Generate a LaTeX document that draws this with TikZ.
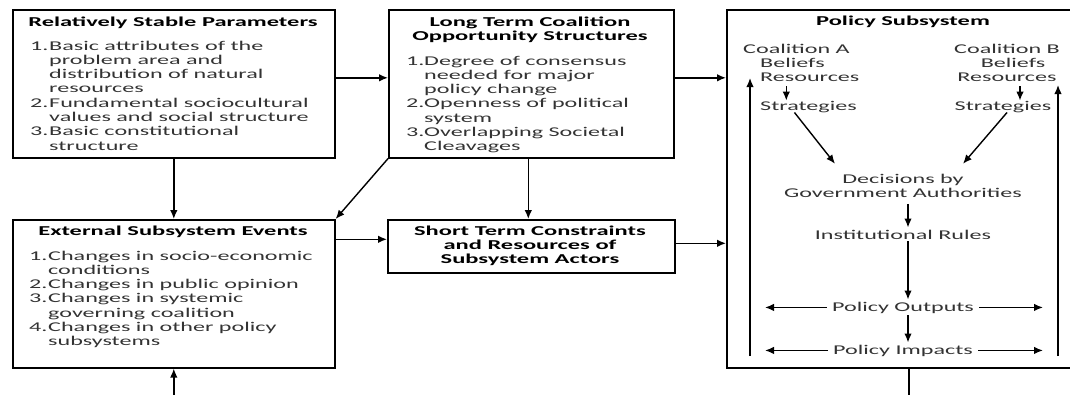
\documentclass[tikz,border=0pt]{standalone}
\usepackage{fontspec}
\setmainfont{Carlito}[FakeStretch=1.8]
\usetikzlibrary{arrows.meta,positioning}
\definecolor{txtgray}{gray}{0.2}
\tikzset{
  box/.style={draw, line width=1.6pt, anchor=north west, inner sep=0pt},
  head/.style={font=\fontsize{13.6}{14.3}\selectfont\bfseries, inner sep=0pt},
  txt/.style={font=\fontsize{13.4}{14.3}\selectfont, text=txtgray, inner sep=0pt},
  inner/.style={font=\fontsize{13.4}{14.3}\selectfont, text=txtgray, inner ysep=2pt, inner xsep=5pt},
  arr/.style={line width=1.4pt, ->},
}
\begin{document}
\begin{tikzpicture}[x=1pt,y=-1pt,>={Latex[length=9pt,width=7.5pt]}]
\useasboundingbox (0,0) rectangle (1070,394);

% the five boxes
\node [box, minimum width=322pt, minimum height=148pt] (stable) at (12,9) {};
\node [box, minimum width=285pt, minimum height=148pt] (opp) at (388,9) {};
\node [box, minimum width=354pt, minimum height=358pt] (policy) at (726,9) {};
\node [box, minimum width=322pt, minimum height=148pt] (ext) at (12,219) {};
\node [box, minimum width=287pt, minimum height=53pt] (short) at (387,219) {};

% box contents
\node [head, anchor=base] (stablehead) at (173,26) {Relatively Stable Parameters};
\node [txt, anchor=base west] (stablelist) at (30,50) {\begin{tabular}[t]{@{}p{19pt}@{}l@{}}
1. & Basic attributes of the\\
   & problem area and\\
   & distribution of natural\\
   & resources\\
2. & Fundamental sociocultural\\
   & values and social structure\\
3. & Basic constitutional\\
   & structure
\end{tabular}};

\node [head, anchor=base] (opphead) at (530,26) {\begin{tabular}[t]{@{}c@{}}Long Term Coalition\\Opportunity Structures\end{tabular}};
\node [txt, anchor=base west] (opplist) at (406,65) {\begin{tabular}[t]{@{}p{18pt}@{}l@{}}
1. & Degree of consensus\\
   & needed for major\\
   & policy change\\
2. & Openness of political\\
   & system\\
3. & Overlapping Societal\\
   & Cleavages
\end{tabular}};

\node [head, anchor=base] (exthead) at (173,235) {External Subsystem Events};
\node [txt, anchor=base west] (extlist) at (29,260) {\begin{tabular}[t]{@{}p{19pt}@{}l@{}}
1. & Changes in socio-economic\\
   & conditions\\
2. & Changes in public opinion\\
3. & Changes in systemic\\
   & governing coalition\\
4. & Changes in other policy\\
   & subsystems
\end{tabular}};

\node [head, anchor=base] (shorthead) at (530,235) {\begin{tabular}[t]{@{}c@{}}Short Term Constraints\\and Resources of\\Subsystem Actors\end{tabular}};

% policy subsystem
\node [head, anchor=base] (policyhead) at (903,25) {Policy Subsystem};
\node [txt, anchor=base west] (coalA) at (743,53) {\begin{tabular}[t]{@{}l@{}}Coalition A\\\hspace*{17pt}Beliefs\\\hspace*{17pt}Resources\end{tabular}};
\node [txt, anchor=base west] (stratA) at (760,110) {Strategies};
\node [txt, anchor=base] (coalB) at (1007,53) {\begin{tabular}[t]{@{}c@{}}Coalition B\\\hspace*{12pt}Beliefs\\Resources\end{tabular}};
\node [txt, anchor=base] (stratB) at (1003,110) {Strategies};
\node [inner, anchor=base] (decide) at (903,183) {\begin{tabular}[t]{@{}c@{}}Decisions by\\Government Authorities\end{tabular}};
\node [inner, anchor=base] (rules) at (903,239) {Institutional Rules};
\node [inner, anchor=base] (outputs) at (903,311) {Policy Outputs};
\node [inner, anchor=base] (impacts) at (903,354) {Policy Impacts};

\coordinate (outL) at (765,0);
\coordinate (outR) at (1043,0);
\coordinate (barAtop) at (750,78);
\coordinate (barAbot) at (750,356);
\coordinate (barBtop) at (1058,85);
\coordinate (barBbot) at (1058,356);

% connectors between boxes
\draw [arr] ([yshift=6pt]stable.east) -- ([yshift=6pt]opp.west);
\draw [arr] ([yshift=6pt]opp.east) -- ([yshift=6pt]opp.east -| policy.west);
\draw [arr] (stable.south) -- (ext.north);
\draw [arr] ([xshift=-3pt]opp.south) -- ([xshift=-3pt]short.north);
\draw [arr] (opp.south west) -- (ext.north east);
\draw [arr] ([yshift=7pt]ext.east |- short.west) -- ([yshift=7pt]short.west);
\draw [arr] ([yshift=3pt]short.east) -- ([yshift=3pt]short.east -| policy.west);
\draw [arr] ([xshift=5pt]policy.south) -- ++(0,27) -| (ext.south);

% connectors in the subsystem
\draw [arr] ([xshift=-15pt]coalA.south) -- ([xshift=-15pt]coalA.south |- stratA.north);
\draw [arr] ([xshift=13pt]coalB.south) -- ([xshift=13pt]coalB.south |- stratB.north);
\draw [arr] ([xshift=-14pt]stratA.south) -- ([xshift=-68pt,yshift=7pt]decide.north);
\draw [arr] ([xshift=4pt]stratB.south) -- ([xshift=60pt,yshift=7pt]decide.north);
\draw [arr] ([xshift=5pt]decide.south) -- ([xshift=5pt]rules.north);
\draw [arr] ([xshift=5pt]rules.south) -- ([xshift=5pt]outputs.north);
\draw [arr] ([xshift=5pt]outputs.south) -- ([xshift=5pt]impacts.north);
\draw [arr] (outputs.west) -- (outputs.west -| outL);
\draw [arr] (outputs.east) -- (outputs.east -| outR);
\draw [arr] (impacts.west) -- (impacts.west -| outL);
\draw [arr] (impacts.east) -- (impacts.east -| outR);
\draw [arr] (barAbot) -- (barAtop);
\draw [arr] (barBbot) -- (barBtop);

\end{tikzpicture}
\end{document}
